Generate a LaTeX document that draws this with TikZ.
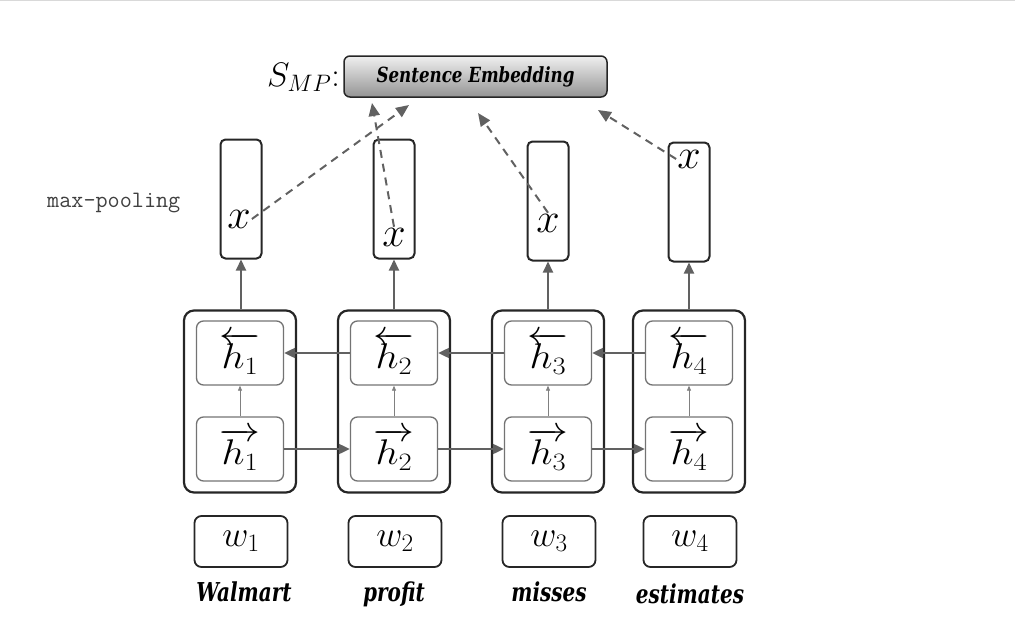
\RequirePackage{fix-cm}
\documentclass[tikz,border=0pt]{standalone}
\usepackage{fontspec}
\usepackage{graphicx}
\newfontfamily\wordfont{DejaVu Serif}
\usetikzlibrary{arrows.meta}
\newcommand{\wordtxt}[1]{\scalebox{1}[1.3]{\wordfont\bfseries\itshape\fontsize{20}{24}\selectfont #1}}
\newcommand{\hlab}[1]{\scalebox{1.2}[1.05]{$#1$}}
\begin{document}
\begin{tikzpicture}[x=1pt,y=-1pt,
  outerbox/.style={draw=black!85, line width=2.2pt, rounded corners=10pt, minimum width=112pt, minimum height=182pt, inner sep=0pt},
  innerbox/.style={draw=black!55, line width=1.3pt, rounded corners=7pt, minimum width=87pt, minimum height=64pt, inner sep=0pt, font=\fontsize{34}{38}\selectfont},
  xbox/.style={draw=black!85, line width=2pt, rounded corners=5pt, minimum width=41pt, minimum height=119pt, inner sep=0pt},
  xlab/.style={inner sep=1pt, font=\fontsize{42}{44}\selectfont},
  wbox/.style={draw=black!85, line width=1.8pt, rounded corners=7pt, minimum width=93pt, minimum height=51pt, inner sep=0pt, font=\fontsize{36}{38}\selectfont},
  wordlab/.style={inner sep=0pt},
  arr/.style={draw=black!62, line width=2pt, -{Triangle[length=11pt,width=10pt]}},
  thinarr/.style={draw=black!50, line width=0.8pt, -{Triangle[length=5pt,width=4pt]}},
  dasharr/.style={draw=black!62, line width=2pt, dash pattern=on 8pt off 6pt, -{Triangle[length=13pt,width=11pt]}}
]
\useasboundingbox (0,0) rectangle (1015,637);
\draw[black!15, line width=1.5pt] (0,0.5) -- (1015,0.5);

% sentence embedding
\node[draw=black!85, line width=1.5pt, rounded corners=6pt, minimum width=263pt, minimum height=41pt,
      top color=black!6, bottom color=black!42, inner sep=0pt] (se) at (475.5,76.5)
      {\scalebox{1}[1.25]{\wordfont\bfseries\itshape\resizebox{198pt}{!}{Sentence Embedding}}};
\node[anchor=east, inner sep=0pt, font=\fontsize{34}{36}\selectfont] (smp) at (340,77) {$S_{MP}$:};

% max-pooling label
\node[anchor=west, inner sep=0pt, text=black!75, font=\ttfamily\fontsize{23.5}{26}\selectfont] (mp) at (47,203) {max-pooling};

% cells
\foreach \i/\cx in {1/240,2/394,3/548,4/689}{
  \node[outerbox] (c\i) at (\cx,401.5) {};
  \node[innerbox] (b\i) at (\cx,353) {\hlab{\overleftarrow{h_\i}}};
  \node[innerbox] (f\i) at (\cx,449) {\hlab{\overrightarrow{h_\i}}};
  \draw[thinarr] (f\i.north) -- (b\i.south);
  \node[wbox] (w\i) at (\cx+1,541.5) {$w_\i$};
}

% x boxes
\node[xbox] (m1) at (241,199) {};
\node[xbox] (m2) at (394,199) {};
\node[xbox] (m3) at (548,201) {};
\node[xbox] (m4) at (689,202) {};
\node[xlab] (x1) at (239,219) {$x$};
\node[xlab] (x2) at (394,237) {$x$};
\node[xlab] (x3) at (548,223) {$x$};
\node[xlab] (x4) at (689,159) {$x$};

\foreach \i in {1,2,3,4}{
  \draw[arr] (c\i.north -| m\i.south) -- (m\i.south);
}

% recurrent arrows
\draw[arr] (f1.east) -- (f2.west);
\draw[arr] (f2.east) -- (f3.west);
\draw[arr] (f3.east) -- (f4.west);
\draw[arr] (b2.west) -- (b1.east);
\draw[arr] (b3.west) -- (b2.east);
\draw[arr] (b4.west) -- (b3.east);

% pooled to sentence embedding
\coordinate (t1) at (409,105);
\coordinate (t2) at (372,103);
\coordinate (t3) at (478,113);
\coordinate (t4) at (598,110);
\draw[dasharr] (x1.east) -- (t1);
\draw[dasharr] (x2.north) -- (t2);
\draw[dasharr] (x3.north) -- (t3);
\draw[dasharr] (x4.west) -- (t4);

% words
\node[wordlab] (l1) at (244,592) {\wordtxt{Walmart}};
\node[wordlab] (l2) at (394,594) {\wordtxt{profit}};
\node[wordlab] (l3) at (549,592) {\wordtxt{misses}};
\node[wordlab] (l4) at (690,594) {\wordtxt{estimates}};
\end{tikzpicture}
\end{document}
